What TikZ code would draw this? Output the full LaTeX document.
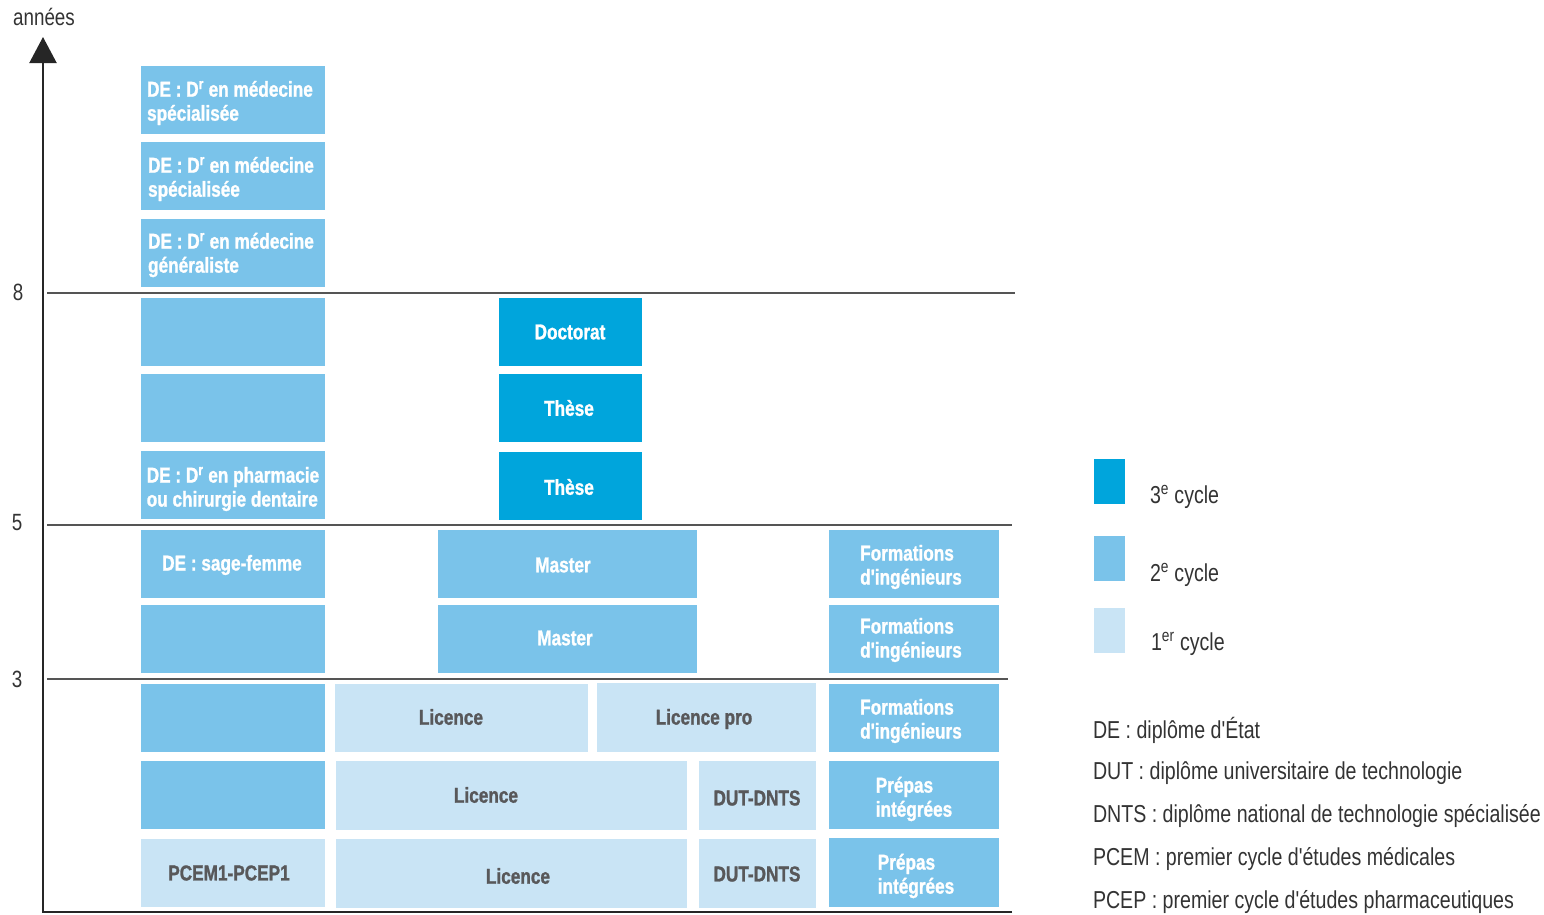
\documentclass[tikz,border=0pt]{standalone}
\usepackage{fontspec}
\setmainfont{Liberation Sans}[FakeStretch=0.8, Ligatures=TeXOff, BoldFeatures={FakeBold=1.2}]
\usetikzlibrary{arrows.meta}
\definecolor{cthree}{HTML}{00A5DC}
\definecolor{ctwo}{HTML}{7AC3EA}
\definecolor{cone}{HTML}{C9E4F5}
\definecolor{darktxt}{HTML}{58585A}
\definecolor{linegray}{HTML}{555555}
\definecolor{legtxt}{HTML}{333333}
\newcommand\mybox[6]{%
  \path ({#3},{#4}) coordinate (#1-nw) ({#5},{#6}) coordinate (#1-se);
  \node[#2, anchor=north west, minimum width={(#5-#3)*1pt}, minimum height={(#6-#4)*1pt}] (#1) at (#1-nw) {};}
\begin{document}
\begin{tikzpicture}[x=1pt,y=-1pt,
  every node/.style={inner sep=0pt, outer sep=0pt},
  bthree/.style={fill=cthree, draw=none, rectangle},
  btwo/.style={fill=ctwo, draw=none, rectangle},
  bone/.style={fill=cone, draw=none, rectangle},
  wtxt/.style={font=\fontsize{21.5}{24}\selectfont\bfseries, text=white, align=left},
  gtxt/.style={font=\fontsize{21.5}{24}\selectfont\bfseries, text=darktxt, align=left},
  legend/.style={font=\fontsize{24.5}{27}\selectfont, text=legtxt, anchor=west},
  axislab/.style={font=\fontsize{23.5}{26}\selectfont, text=legtxt},
  level/.style={draw=linegray, line width=1.4pt},
]
\useasboundingbox (0,0) rectangle (1544,914);

% column 1
\mybox{a1}{btwo}{141}{66}{325}{134}
\mybox{a2}{btwo}{141}{142}{325}{210}
\mybox{a3}{btwo}{141}{219}{325}{287}
\mybox{a4}{btwo}{141}{298}{325}{366}
\mybox{a5}{btwo}{141}{374}{325}{442}
\mybox{a6}{btwo}{141}{451}{325}{519}
\mybox{a7}{btwo}{141}{530}{325}{598}
\mybox{a8}{btwo}{141}{605}{325}{673}
\mybox{a9}{btwo}{141}{684}{325}{752}
\mybox{a10}{btwo}{141}{761}{325}{829}
\mybox{a11}{bone}{141}{839}{325}{907}
\node[wtxt] at (230,103) {DE : D\textsuperscript{r} en médecine\\spécialisée};
\node[wtxt] at (231,179) {DE : D\textsuperscript{r} en médecine\\spécialisée};
\node[wtxt] at (231,255) {DE : D\textsuperscript{r} en médecine\\généraliste};
\node[wtxt] at (233,489) {DE : D\textsuperscript{r} en pharmacie\\ou chirurgie dentaire};
\node[wtxt] at (232,565) {DE : sage-femme};
\node[gtxt] at (229,873) {PCEM1-PCEP1};

% 3e cycle
\mybox{d1}{bthree}{499}{298}{642}{366}
\mybox{d2}{bthree}{499}{374}{642}{442}
\mybox{d3}{bthree}{499}{452}{642}{520}
\node[wtxt] at (570,332) {Doctorat};
\node[wtxt] at (569,408) {Thèse};
\node[wtxt] at (569,487) {Thèse};

% master
\mybox{m1}{btwo}{438}{530}{697}{598}
\mybox{m2}{btwo}{438}{605}{697}{673}
\node[wtxt] at (563,565) {Master};
\node[wtxt] at (565,638) {Master};

% licence
\mybox{l1}{bone}{335}{684}{588}{752}
\mybox{lp}{bone}{597}{683}{816}{752}
\mybox{l2}{bone}{336}{761}{687}{830}
\mybox{u1}{bone}{699}{761}{816}{830}
\mybox{l3}{bone}{336}{839}{687}{908}
\mybox{u2}{bone}{699}{839}{816}{908}
\node[gtxt] at (451,717) {Licence};
\node[gtxt] at (704,719) {Licence pro};
\node[gtxt] at (486,795) {Licence};
\node[gtxt] at (757,798) {DUT-DNTS};
\node[gtxt] at (518,876) {Licence};
\node[gtxt] at (757,874) {DUT-DNTS};

% right column
\mybox{f1}{btwo}{829}{530}{999}{598}
\mybox{f2}{btwo}{829}{605}{999}{673}
\mybox{f3}{btwo}{829}{684}{999}{752}
\mybox{p1}{btwo}{829}{761}{999}{829}
\mybox{p2}{btwo}{829}{838}{999}{907}
\node[wtxt] at (911,567) {Formations\\d'ingénieurs};
\node[wtxt] at (911,640) {Formations\\d'ingénieurs};
\node[wtxt] at (911,721) {Formations\\d'ingénieurs};
\node[wtxt] at (914,799) {Prépas\\intégrées};
\node[wtxt] at (916,876) {Prépas\\intégrées};

% axis and level lines
\coordinate (ax0) at (43,912);
\coordinate (axtop) at (43,37);
\coordinate (axend) at (1012,912);
\draw[line width=2.2pt, draw=black!85, -{Triangle[width=27pt,length=26pt]}] (axend) -- (ax0) -- (axtop);
\coordinate (h8a) at (47,293); \coordinate (h8b) at (1015,293);
\coordinate (h5a) at (47,525); \coordinate (h5b) at (1012,525);
\coordinate (h3a) at (47,679); \coordinate (h3b) at (1008,679);
\draw[level] (h8a) -- (h8b);
\draw[level] (h5a) -- (h5b);
\draw[level] (h3a) -- (h3b);
\node[axislab] at (44,17) {années};
\node[axislab] at (18,292) {8};
\node[axislab] at (17,523) {5};
\node[axislab] at (17,679) {3};

% legend
\mybox{k3}{bthree}{1094}{459}{1125}{504}
\mybox{k2}{btwo}{1094}{536}{1125}{581}
\mybox{k1}{bone}{1094}{608}{1125}{653}
\node[legend] at (1150,497) {3\textsuperscript{e} cycle};
\node[legend] at (1150,575) {2\textsuperscript{e} cycle};
\node[legend] at (1151,644) {1\textsuperscript{er} cycle};
\node[legend] at (1093,730) {DE : diplôme d'État};
\node[legend] at (1093,773) {DUT : diplôme universitaire de technologie};
\node[legend] at (1093,816) {DNTS : diplôme national de technologie spécialisée};
\node[legend] at (1093,859) {PCEM : premier cycle d'études médicales};
\node[legend] at (1093,902) {PCEP : premier cycle d'études pharmaceutiques};
\end{tikzpicture}
\end{document}
